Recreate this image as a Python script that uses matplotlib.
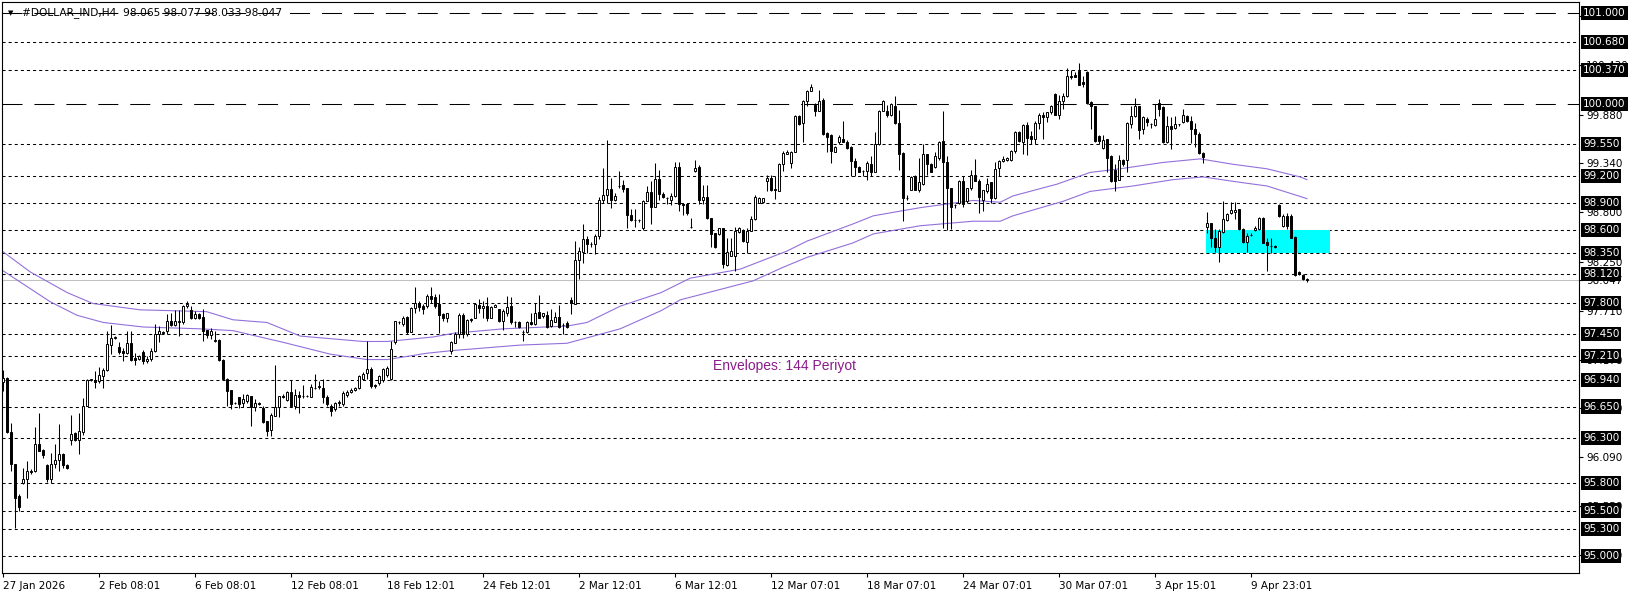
#! /usr/bin/env python3
# -*- coding: utf-8 -*-

import matplotlib
matplotlib.use('Agg')
import matplotlib.pyplot as plt
from matplotlib.patches import Rectangle
from matplotlib.transforms import blended_transform_factory

plt.rcParams['lines.scale_dashes'] = False

# H4 candles, one per bar, oldest first
opens = [
    96.92, 96.97, 96.37, 96.02, 95.66, 95.80, 95.85, 95.94, 95.94, 96.24,
    96.17, 96.00, 95.85, 96.01, 96.06, 96.12, 96.00, 96.28, 96.36, 96.28,
    96.37, 96.66, 96.94, 96.94, 96.93, 96.99, 97.05, 97.33, 97.41, 97.31,
    97.26, 97.24, 97.35, 97.19, 97.18, 97.25, 97.15, 97.18, 97.26, 97.45,
    97.46, 97.49, 97.60, 97.55, 97.59, 97.59, 97.76, 97.72, 97.63, 97.67,
    97.64, 97.50, 97.44, 97.37, 97.39, 97.17, 96.96, 96.83, 96.69, 96.76,
    96.69, 96.71, 96.77, 96.65, 96.69, 96.63, 96.49, 96.39, 96.55, 96.64,
    96.77, 96.72, 96.81, 96.66, 96.78, 96.77, 96.77, 96.76, 96.86, 96.87,
    96.86, 96.76, 96.66, 96.62, 96.69, 96.68, 96.78, 96.81, 96.83, 96.86,
    96.96, 97.02, 97.07, 96.88, 96.91, 96.94, 97.00, 96.96, 97.36, 97.59,
    97.56, 97.64, 97.48, 97.74, 97.80, 97.76, 97.76, 97.87, 97.86, 97.79,
    97.67, 97.63, 97.27, 97.35, 97.45, 97.66, 97.45, 97.62, 97.63, 97.77,
    97.74, 97.76, 97.63, 97.75, 97.73, 97.60, 97.69, 97.76, 97.59, 97.59,
    97.48, 97.47, 97.59, 97.56, 97.70, 97.65, 97.66, 97.54, 97.59, 97.64,
    97.55, 97.57, 97.83, 97.79, 98.27, 98.36, 98.50, 98.45, 98.45, 98.54,
    98.93, 98.99, 99.06, 98.93, 99.09, 99.10, 99.07, 98.77, 98.71, 98.71,
    98.63, 98.92, 99.02, 98.86, 99.17, 99.00, 98.96, 98.94, 98.98, 99.30,
    98.89, 98.89, 98.64, 99.26, 99.30, 98.94, 98.97, 98.74, 98.57, 98.56,
    98.62, 98.22, 98.32, 98.32, 98.58, 98.60, 98.47, 98.59, 98.72, 98.90,
    98.91, 99.14, 99.18, 99.06, 99.03, 99.33, 99.44, 99.34, 99.47, 99.86,
    99.79, 100.03, 100.14, 99.99, 99.92, 100.04, 99.68, 99.65, 99.47, 99.58,
    99.61, 99.58, 99.52, 99.37, 99.30, 99.26, 99.26, 99.33, 99.25, 99.55,
    99.92, 99.92, 99.87, 99.98, 99.79, 99.45, 98.96, 99.05, 99.20, 99.05,
    99.11, 99.44, 99.33, 99.30, 99.40, 99.59, 99.36, 99.07, 98.88, 98.90,
    99.14, 98.92, 99.07, 99.21, 99.15, 98.94, 99.03, 99.13, 98.96, 99.29,
    99.37, 99.38, 99.38, 99.48, 99.69, 99.58, 99.76, 99.64, 99.61, 99.79,
    99.88, 99.85, 99.91, 100.11, 99.88, 100.03, 100.09, 100.31, 100.32, 100.36,
    100.24, 100.35, 100.02, 99.97, 99.64, 99.51, 99.61, 99.42, 99.27, 99.16,
    99.38, 99.38, 99.77, 99.86, 99.97, 99.72, 99.83, 99.77, 99.76, 100.01,
    99.96, 99.58, 99.75, 99.73, 99.77, 99.80, 99.86, 99.81, 99.72, 99.67,
    99.46, 98.64, 98.68, 98.51, 98.42, 98.58, 98.71, 98.79, 98.80, 98.83,
    98.61, 98.47, 98.55, 98.60, 98.61, 98.74, 98.47, 98.43, 98.41, 98.88,
    98.65, 98.76, 98.76, 98.53, 98.14, 98.11, 98.065,
]
highs = [
    97.05, 96.98, 96.47, 96.02, 95.68, 95.97, 96.05, 95.96, 96.42, 96.58,
    96.18, 96.01, 96.14, 96.24, 96.46, 96.14, 96.02, 96.56, 96.37, 96.58,
    96.75, 96.95, 96.96, 97.04, 97.09, 97.08, 97.49, 97.55, 97.43, 97.36,
    97.30, 97.49, 97.49, 97.24, 97.22, 97.28, 97.21, 97.30, 97.56, 97.54,
    97.49, 97.67, 97.68, 97.72, 97.72, 97.77, 97.82, 97.76, 97.71, 97.69,
    97.73, 97.50, 97.52, 97.49, 97.40, 97.18, 96.97, 96.83, 96.70, 96.76,
    96.79, 96.79, 96.77, 96.73, 96.70, 96.66, 96.49, 96.58, 97.11, 96.77,
    96.79, 96.82, 96.94, 96.84, 96.82, 96.89, 96.78, 96.90, 97.01, 96.93,
    96.95, 96.78, 96.68, 96.70, 96.72, 96.82, 96.83, 96.85, 96.87, 97.00,
    97.03, 97.37, 97.09, 96.90, 97.00, 97.08, 97.10, 97.38, 97.60, 97.60,
    97.65, 97.65, 97.75, 97.97, 97.82, 97.79, 97.89, 97.97, 97.89, 97.89,
    97.68, 97.69, 97.38, 97.47, 97.68, 97.69, 97.62, 97.63, 97.80, 97.84,
    97.82, 97.86, 97.76, 97.78, 97.73, 97.73, 97.87, 97.86, 97.60, 97.60,
    97.50, 97.60, 97.68, 97.80, 97.88, 97.69, 97.71, 97.73, 97.70, 97.77,
    97.57, 97.60, 97.86, 98.48, 98.41, 98.67, 98.54, 98.47, 98.56, 98.97,
    99.29, 99.60, 99.18, 99.01, 99.26, 99.16, 99.07, 98.84, 98.84, 98.73,
    98.94, 99.09, 99.14, 99.34, 99.27, 99.02, 98.97, 99.01, 99.35, 99.36,
    98.90, 98.90, 98.74, 99.38, 99.32, 99.10, 99.10, 98.74, 98.57, 98.63,
    98.62, 98.51, 98.51, 98.64, 98.64, 98.61, 98.62, 98.76, 98.99, 98.97,
    98.96, 99.21, 99.21, 99.20, 99.34, 99.48, 99.49, 99.48, 99.87, 99.88,
    100.04, 100.15, 100.22, 100.01, 100.15, 100.06, 99.69, 99.66, 99.53, 99.65,
    99.81, 99.60, 99.53, 99.40, 99.31, 99.27, 99.37, 99.42, 99.69, 99.93,
    100.04, 99.99, 100.01, 100.08, 99.93, 99.47, 98.99, 99.20, 99.21, 99.40,
    99.55, 99.44, 99.34, 99.47, 99.59, 99.92, 99.42, 99.07, 98.89, 99.16,
    99.20, 99.07, 99.27, 99.39, 99.17, 99.05, 99.18, 99.13, 99.35, 99.38,
    99.42, 99.41, 99.49, 99.70, 99.70, 99.77, 99.80, 99.70, 99.81, 99.90,
    99.91, 99.91, 99.99, 100.12, 100.10, 100.12, 100.40, 100.37, 100.35, 100.45,
    100.31, 100.36, 100.03, 99.98, 99.65, 99.65, 99.61, 99.43, 99.33, 99.43,
    99.39, 99.80, 99.97, 100.06, 99.97, 99.86, 99.85, 99.79, 100.00, 100.05,
    99.97, 99.86, 99.85, 99.86, 99.78, 99.94, 99.88, 99.86, 99.79, 99.69,
    99.47, 98.80, 98.68, 98.61, 98.61, 98.92, 98.79, 98.91, 98.91, 98.84,
    98.62, 98.57, 98.57, 98.65, 98.75, 98.75, 98.51, 98.51, 98.44, 98.89,
    98.78, 98.79, 98.78, 98.54, 98.15, 98.12, 98.077,
]
lows = [
    96.82, 96.36, 95.94, 95.31, 95.50, 95.79, 95.64, 95.90, 95.93, 96.16,
    96.08, 95.82, 95.80, 95.97, 95.94, 95.97, 95.96, 96.23, 96.27, 96.13,
    96.34, 96.66, 96.93, 96.86, 96.91, 96.86, 97.04, 97.23, 97.40, 97.23,
    97.15, 97.23, 97.15, 97.11, 97.17, 97.12, 97.13, 97.15, 97.25, 97.36,
    97.45, 97.45, 97.54, 97.54, 97.43, 97.56, 97.74, 97.62, 97.62, 97.62,
    97.38, 97.41, 97.40, 97.36, 97.15, 96.95, 96.66, 96.62, 96.68, 96.63,
    96.64, 96.69, 96.43, 96.60, 96.67, 96.47, 96.32, 96.32, 96.55, 96.53,
    96.74, 96.71, 96.66, 96.62, 96.58, 96.74, 96.76, 96.76, 96.84, 96.84,
    96.69, 96.66, 96.55, 96.60, 96.66, 96.66, 96.76, 96.80, 96.82, 96.84,
    96.94, 96.95, 96.86, 96.86, 96.89, 96.92, 96.98, 96.94, 97.34, 97.56,
    97.54, 97.45, 97.47, 97.68, 97.71, 97.67, 97.74, 97.80, 97.74, 97.46,
    97.60, 97.58, 97.23, 97.35, 97.41, 97.41, 97.43, 97.59, 97.63, 97.69,
    97.63, 97.60, 97.63, 97.75, 97.58, 97.50, 97.65, 97.56, 97.53, 97.52,
    97.38, 97.46, 97.55, 97.55, 97.63, 97.63, 97.52, 97.53, 97.58, 97.52,
    97.45, 97.52, 97.67, 97.79, 98.06, 98.24, 98.35, 98.42, 98.34, 98.50,
    98.90, 98.90, 98.85, 98.92, 99.07, 99.02, 98.62, 98.70, 98.64, 98.69,
    98.60, 98.92, 98.67, 98.86, 98.94, 98.96, 98.89, 98.88, 98.97, 98.81,
    98.77, 98.77, 98.63, 99.25, 98.89, 98.89, 98.73, 98.42, 98.40, 98.55,
    98.18, 98.21, 98.31, 98.15, 98.57, 98.47, 98.35, 98.59, 98.71, 98.90,
    98.90, 99.03, 99.03, 98.95, 99.03, 99.26, 99.44, 99.29, 99.47, 99.76,
    99.58, 99.97, 100.14, 99.86, 99.92, 99.65, 99.47, 99.34, 99.47, 99.55,
    99.58, 99.50, 99.20, 99.20, 99.24, 99.20, 99.16, 99.20, 99.24, 99.54,
    99.92, 99.85, 99.86, 99.77, 99.27, 98.70, 98.94, 99.04, 99.04, 99.02,
    99.10, 99.21, 99.24, 99.29, 99.38, 98.62, 98.60, 98.61, 98.85, 98.89,
    98.86, 98.90, 99.05, 99.14, 98.79, 98.81, 99.01, 98.90, 98.95, 99.20,
    99.35, 99.37, 99.37, 99.46, 99.58, 99.44, 99.43, 99.55, 99.55, 99.72,
    99.61, 99.80, 99.89, 99.87, 99.83, 99.94, 100.07, 100.27, 100.29, 100.21,
    100.19, 100.00, 99.72, 99.58, 99.55, 99.50, 99.24, 99.13, 99.03, 99.16,
    99.31, 99.24, 99.73, 99.85, 99.61, 99.67, 99.75, 99.73, 99.75, 99.86,
    99.56, 99.56, 99.50, 99.72, 99.75, 99.79, 99.80, 99.56, 99.52, 99.44,
    99.34, 98.57, 98.41, 98.36, 98.25, 98.57, 98.70, 98.78, 98.72, 98.60,
    98.46, 98.36, 98.54, 98.59, 98.60, 98.46, 98.15, 98.35, 98.40, 98.75,
    98.64, 98.61, 98.51, 98.09, 98.11, 98.05, 98.033,
]
closes = [
    96.97, 96.37, 96.02, 95.64, 95.54, 95.85, 95.94, 95.93, 96.24, 96.16,
    96.11, 95.85, 96.02, 96.06, 96.12, 96.00, 95.97, 96.35, 96.28, 96.38,
    96.66, 96.94, 96.95, 96.92, 97.00, 97.05, 97.34, 97.41, 97.42, 97.25,
    97.24, 97.35, 97.17, 97.16, 97.21, 97.15, 97.18, 97.27, 97.45, 97.49,
    97.48, 97.60, 97.55, 97.60, 97.60, 97.76, 97.78, 97.63, 97.67, 97.63,
    97.49, 97.44, 97.49, 97.39, 97.17, 96.96, 96.82, 96.68, 96.69, 96.68,
    96.73, 96.78, 96.65, 96.69, 96.68, 96.48, 96.38, 96.56, 96.65, 96.77,
    96.76, 96.81, 96.66, 96.78, 96.76, 96.77, 96.77, 96.87, 96.86, 96.88,
    96.76, 96.68, 96.60, 96.69, 96.70, 96.80, 96.81, 96.83, 96.86, 96.99,
    97.01, 97.07, 96.88, 96.89, 96.99, 97.06, 97.08, 97.29, 97.60, 97.59,
    97.63, 97.47, 97.74, 97.80, 97.75, 97.73, 97.87, 97.84, 97.76, 97.66,
    97.63, 97.68, 97.36, 97.45, 97.66, 97.45, 97.61, 97.61, 97.78, 97.74,
    97.76, 97.63, 97.75, 97.77, 97.60, 97.71, 97.75, 97.58, 97.59, 97.53,
    97.48, 97.58, 97.56, 97.69, 97.63, 97.68, 97.53, 97.61, 97.64, 97.53,
    97.55, 97.53, 97.80, 98.27, 98.37, 98.50, 98.45, 98.45, 98.54, 98.93,
    98.99, 99.06, 98.93, 98.98, 99.09, 99.06, 98.77, 98.71, 98.71, 98.71,
    98.92, 99.02, 98.86, 99.17, 99.00, 98.97, 98.96, 98.98, 99.30, 98.89,
    98.88, 98.79, 98.64, 99.29, 98.94, 98.97, 98.74, 98.56, 98.41, 98.62,
    98.23, 98.36, 98.37, 98.59, 98.62, 98.48, 98.59, 98.72, 98.97, 98.96,
    98.96, 99.18, 99.04, 99.04, 99.33, 99.45, 99.47, 99.47, 99.86, 99.78,
    100.03, 100.14, 100.18, 99.92, 100.03, 99.66, 99.63, 99.48, 99.52, 99.63,
    99.58, 99.51, 99.37, 99.30, 99.25, 99.26, 99.34, 99.25, 99.55, 99.92,
    100.03, 99.88, 100.00, 99.79, 99.44, 98.96, 98.96, 99.19, 99.05, 99.13,
    99.44, 99.33, 99.25, 99.42, 99.58, 99.35, 99.07, 98.86, 98.88, 99.14,
    98.89, 99.07, 99.21, 99.15, 98.97, 99.04, 99.11, 98.96, 99.28, 99.37,
    99.39, 99.40, 99.48, 99.69, 99.59, 99.76, 99.62, 99.61, 99.79, 99.87,
    99.85, 99.91, 99.98, 99.88, 100.03, 100.09, 100.31, 100.30, 100.30, 100.21,
    100.22, 100.01, 99.97, 99.59, 99.59, 99.60, 99.40, 99.14, 99.14, 99.38,
    99.33, 99.79, 99.86, 99.97, 99.71, 99.85, 99.80, 99.77, 99.83, 99.94,
    99.58, 99.75, 99.72, 99.77, 99.77, 99.87, 99.81, 99.72, 99.67, 99.45,
    99.41, 98.68, 98.51, 98.42, 98.59, 98.72, 98.78, 98.82, 98.82, 98.61,
    98.47, 98.54, 98.55, 98.63, 98.74, 98.46, 98.44, 98.43, 98.43, 98.76,
    98.76, 98.65, 98.52, 98.11, 98.12, 98.06, 98.047,
]

# Envelopes (144) bands, read at a few bar positions
upper_bars = [0, 6.7, 16, 22.4, 34.2, 50.8, 57.4, 65.9, 74.2, 89.9, 96, 107.5,
              112.4, 125, 140.9, 145.9, 154.2, 164.4, 171.7, 184.2, 195.9, 200.9,
              212.4, 217.5, 229.2, 242.4, 249.2, 252.4, 263.4, 271.7, 279.2,
              289.9, 299.2, 307.4, 315.9, 324.2, 325.9]
upper_vals = [98.36, 98.14, 97.91, 97.79, 97.72, 97.70, 97.61, 97.58, 97.43, 97.37,
              97.37, 97.42, 97.46, 97.51, 97.54, 97.58, 97.76, 97.91, 98.07, 98.17,
              98.37, 98.48, 98.67, 98.76, 98.85, 98.93, 98.91, 98.98, 99.11, 99.24,
              99.28, 99.35, 99.39, 99.33, 99.28, 99.19, 99.16]
lower_bars = [0, 11.7, 18.4, 25, 35, 49.2, 57.4, 70, 81.7, 90.9, 96, 105.9, 112.4,
              129.2, 140.9, 145.9, 154.2, 164.4, 169.2, 187.4, 194.9, 200.9, 212.4,
              217.5, 229.2, 242.4, 249.2, 252.4, 264.9, 271.7, 282.4, 292.4, 299.9,
              309.2, 315.9, 325.9]
lower_vals = [98.15, 97.81, 97.66, 97.58, 97.53, 97.51, 97.49, 97.36, 97.23, 97.17,
              97.17, 97.24, 97.27, 97.33, 97.35, 97.41, 97.51, 97.71, 97.83, 98.04,
              98.19, 98.30, 98.46, 98.56, 98.65, 98.70, 98.70, 98.76, 98.92, 99.03,
              99.09, 99.16, 99.19, 99.13, 99.09, 98.95]

# horizontal levels drawn on the chart
level_prices = [101.000, 100.680, 100.370, 100.000, 99.550, 99.200, 98.900,
                98.600, 98.350, 98.120, 97.800, 97.450, 97.210, 96.940, 96.650,
                96.300, 95.800, 95.500, 95.300, 95.000]
long_dash_prices = [101.000, 100.000]
price_ticks = [100.970, 100.430, 99.880, 99.340, 98.800, 98.250, 98.047,
               97.710, 97.170, 96.630, 96.090, 95.550, 95.010]
last_price = 98.047

# cyan zone (bars, prices)
zone_bars = [300.7, 331.7]
zone_prices = [98.35, 98.60]

date_bars = [0, 24, 48, 72, 96, 120, 144, 168, 192, 216, 240, 264, 288, 312]
date_labels = ['27 Jan 2026', '2 Feb 08:01', '6 Feb 08:01', '12 Feb 08:01',
               '18 Feb 12:01', '24 Feb 12:01', '2 Mar 12:01', '6 Mar 12:01',
               '12 Mar 07:01', '18 Mar 07:01', '24 Mar 07:01', '30 Mar 07:01',
               '3 Apr 15:01', '9 Apr 23:01']

title = '#DOLLAR_IND,H4  98.065 98.077 98.033 98.047'
indicator_label = 'Envelopes: 144 Periyot'


def draw_candles(ax):
    idx = list(range(len(closes)))
    ax.vlines(idx, lows, highs, color='black', linewidth=0.75, zorder=3)
    bottoms = [min(o, c) for o, c in zip(opens, closes)]
    heights = [abs(c - o) for o, c in zip(opens, closes)]
    fills = ['white' if c >= o else 'black' for o, c in zip(opens, closes)]
    ax.bar(idx, heights, bottom=bottoms, width=0.5, color=fills,
           edgecolor='black', linewidth=0.7, zorder=4)


def main():
    fig = plt.figure(figsize=(16.36, 5.97), dpi=100)
    ax = fig.add_axes([2 / 1636, 24 / 597, 1577 / 1636, 571 / 597])
    ax.set_xlim(-0.33, 393.9)
    ax.set_ylim(94.809, 101.125)

    for p in level_prices:
        if p in long_dash_prices:
            ls = (0, (14.4, 8.6))
        else:
            ls = (0, (2.2, 2.2))
        ax.axhline(p, color='black', linewidth=0.75, linestyle=ls, zorder=1)
    ax.axhline(last_price, color='#c0c0c0', linewidth=0.75, zorder=1)

    ax.add_patch(Rectangle((zone_bars[0], zone_prices[0]),
                           zone_bars[1] - zone_bars[0],
                           zone_prices[1] - zone_prices[0],
                           facecolor='#00ffff', edgecolor='none', zorder=1.5))

    ax.plot(upper_bars, upper_vals, color='#9370db', linewidth=0.8, zorder=2)
    ax.plot(lower_bars, lower_vals, color='#9370db', linewidth=0.8, zorder=2)

    draw_candles(ax)

    ax.text(177.4, 97.10, indicator_label, color='#8b1a8b', fontsize=10,
            family='Liberation Sans', va='center', ha='left', zorder=5)

    # price scale on the right
    ax.yaxis.tick_right()
    ax.set_yticks(price_ticks)
    ax.set_yticklabels(['%.3f' % v for v in price_ticks])
    ax.tick_params(axis='y', direction='out', length=3, width=0.8, pad=2,
                   labelsize=7.5)
    ax.set_xticks(date_bars)
    ax.set_xticklabels(date_labels, ha='left')
    ax.tick_params(axis='x', direction='out', length=3, width=0.8, pad=3,
                   labelsize=7.5)
    for s in ax.spines.values():
        s.set_linewidth(0.8)

    tr = blended_transform_factory(ax.transAxes, ax.transData)
    for p in level_prices:
        ax.text(1.0 + 4 / 1577, p, '%.3f' % p, transform=tr, color='white',
                fontsize=7.5, va='center', ha='left', zorder=6, clip_on=False,
                bbox=dict(boxstyle='square,pad=0.2', fc='black', ec='none'))

    fig.text(8 / 1636, 1 - 13 / 597, '\u25bc', fontsize=5, va='center',
             ha='left')
    fig.text(22 / 1636, 1 - 13 / 597, title, fontsize=7.7, va='center',
             ha='left')

    fig.savefig('out.png', dpi=100)


if __name__ == '__main__':
    main()
